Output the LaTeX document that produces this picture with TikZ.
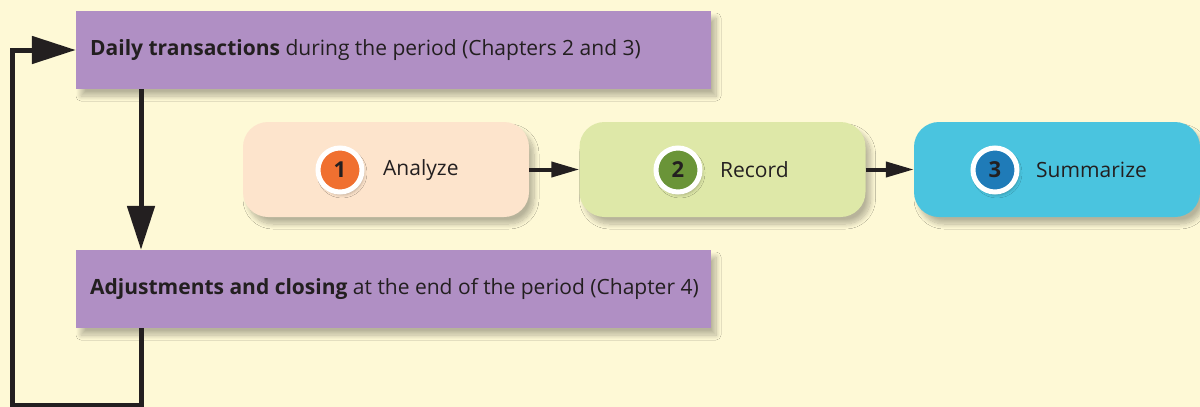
\documentclass[tikz,border=0pt]{standalone}
\usepackage{fontspec}
\setmainfont{Open Sans}
\usetikzlibrary{arrows.meta,shadows.blur}
\definecolor{paper}{HTML}{FEF9D6}
\definecolor{lilac}{HTML}{B08FC4}
\definecolor{peach}{HTML}{FDE4CC}
\definecolor{lime}{HTML}{DEE8A8}
\definecolor{sky}{HTML}{4AC4DF}
\definecolor{ink}{HTML}{231F20}
\definecolor{orangedot}{HTML}{F07030}
\definecolor{greendot}{HTML}{6A9438}
\definecolor{bluedot}{HTML}{1F7BB8}
\tikzset{
  soft/.style={blur shadow={shadow xshift=5pt,shadow yshift=-7pt,shadow blur radius=5pt,
    shadow blur steps=10,shadow opacity=28}},
  phasebox/.style={fill=lilac,soft,minimum width=635pt,minimum height=78pt,inner sep=0pt},
  phasetext/.style={anchor=west,inner sep=0pt,text=ink,font=\fontsize{21}{24}\selectfont},
  stepbox/.style={rounded corners=25pt,soft,minimum width=286pt,minimum height=95pt,inner sep=0pt},
  badge/.style={circle,fill=#1,draw=white,line width=5pt,minimum size=44pt,inner sep=0pt,
    text=ink,font=\fontsize{22}{24}\selectfont\bfseries,
    blur shadow={shadow xshift=2pt,shadow yshift=-3pt,shadow blur radius=3pt,shadow opacity=25}},
  steplabel/.style={text=ink,font=\fontsize{21}{24}\selectfont,anchor=west,inner sep=0pt},
  bigflow/.style={draw=ink,line width=5pt,-{Triangle[length=44pt,width=27pt]}},
  smallflow/.style={draw=ink,line width=4pt,-{Triangle[length=28pt,width=15pt]}},
}
\begin{document}
\begin{tikzpicture}[x=1pt,y=-1pt]
\useasboundingbox (0,0) rectangle (1200,407);
\fill[paper] (0,0) rectangle (1200,407);

% period phases
\node[phasebox] (daily) at (393.5,50) {};
\node[phasetext] (dailytxt) at (90,50)
  {\textbf{Daily transactions} during the period (Chapters 2 and 3)};
\node[phasebox] (adjust) at (393.5,289) {};
\node[phasetext] (adjusttxt) at (90,289)
  {\textbf{Adjustments and closing} at the end of the period (Chapter 4)};

% accounting steps
\node[stepbox,fill=peach] (analyze) at (386,169.5) {};
\node[stepbox,fill=lime] (record) at (722.5,169.5) {};
\node[stepbox,fill=sky] (summ) at (1057,169.5) {};

\node[badge=orangedot] (b1) at (340,170) {1};
\node[steplabel] (l1) at (383,170) {Analyze};
\node[badge=greendot] (b2) at (678,170) {2};
\node[steplabel] (l2) at (720,170) {Record};
\node[badge=bluedot] (b3) at (995,170) {3};
\node[steplabel] (l3) at (1036,170) {Summarize};

\draw[smallflow] (analyze.east) -- (record.west);
\draw[smallflow] (record.east) -- (summ.west);

% cycle connectors
\coordinate (c1) at (141,405);
\coordinate (c2) at (12,405);
\coordinate (c3) at (12,50);
\draw[bigflow] (daily.south -| 141,0) -- (adjust.north -| 141,0);
\draw[bigflow,line join=miter] (adjust.south -| 141,0) -- (c1) -- (c2) -- (c3) -- (daily.west);
\end{tikzpicture}
\end{document}
